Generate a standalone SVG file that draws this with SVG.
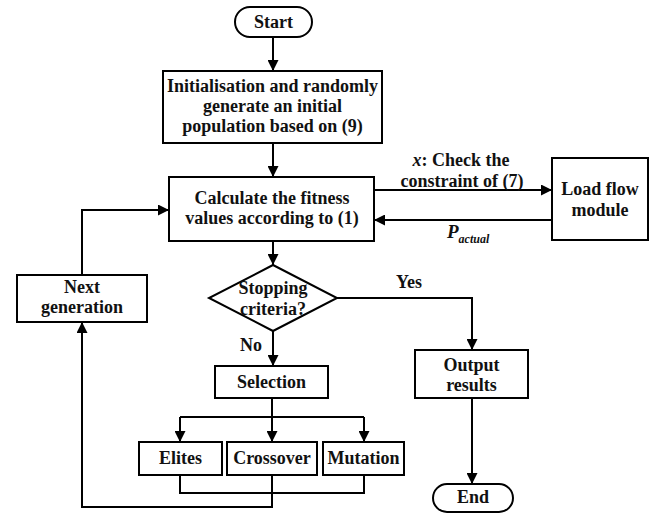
<svg xmlns="http://www.w3.org/2000/svg" width="653" height="514" viewBox="0 0 653 514" font-family="'Liberation Serif', 'Times New Roman', Times, serif">
<defs>
<marker id="ah" viewBox="0 0 10 10" refX="10" refY="5" markerWidth="11" markerHeight="11" markerUnits="userSpaceOnUse" orient="auto">
<path d="M0,0 L10,5 L0,10 z" fill="#000"/>
</marker>
<style>
.n{fill:#fff;stroke:#000;stroke-width:2}
.t{font-family:'Liberation Serif','Times New Roman',Times,serif;font-weight:bold;font-size:18px;text-anchor:middle;fill:#111}
.c{fill:none;stroke:#000;stroke-width:2}
.a{marker-end:url(#ah)}
.i{font-style:italic}
</style>
</defs>
<rect width="653" height="514" fill="#fff"/>
<g id="connectors">
<path class="c a" d="M273,37 V71"/>
<path class="c a" d="M273,143 V177"/>
<path class="c a" d="M374,190 H552"/>
<path class="c a" d="M552,220 H374"/>
<path class="c a" d="M273,241 V265"/>
<path class="c a" d="M337,298 H472 V350"/>
<path class="c a" d="M273,331 V366"/>
<path class="c a" d="M272,398 V442"/>
<path class="c" d="M180,417 H364"/>
<path class="c a" d="M180,417 V442"/>
<path class="c a" d="M364,417 V442"/>
<path class="c a" d="M472,398 V484"/>
<path class="c" d="M180,475 V493 H364 V475"/>
<path class="c a" d="M272,475 V507 H82 V322"/>
<path class="c a" d="M82,275 V210 H169"/>
<text class="t" x="461" y="166"><tspan class="i">x</tspan>: Check the</text>
<text class="t" x="462" y="187">constraint of (7)</text>
<text class="t i" x="447" y="238" style="text-anchor:start;font-size:19px">P<tspan style="font-size:12px" dy="5">actual</tspan></text>
<text class="t" x="409" y="288">Yes</text>
<text class="t" x="251" y="351">No</text>
</g>
<g id="start">
<rect class="n" x="235" y="7" width="77" height="30" rx="15"/>
<text class="t" x="273.5" y="28">Start</text>
</g>
<g id="init">
<rect class="n" x="163" y="71" width="219" height="72"/>
<text class="t" x="272.5" y="92">Initialisation and randomly</text>
<text class="t" x="272.5" y="112">generate an initial</text>
<text class="t" x="272.5" y="132">population based on (9)</text>
</g>
<g id="fitness">
<rect class="n" x="169" y="177" width="205" height="64"/>
<text class="t" x="272" y="204">Calculate the fitness</text>
<text class="t" x="272" y="224">values according to (1)</text>
</g>
<g id="loadflow">
<rect class="n" x="552" y="158" width="96" height="82"/>
<text class="t" x="600" y="195">Load flow</text>
<text class="t" x="600" y="216">module</text>
</g>
<g id="stopping">
<polygon class="n" points="273,265 337,298 273,331 209,298"/>
<text class="t" x="273" y="294">Stopping</text>
<text class="t" x="273" y="315">criteria?</text>
</g>
<g id="nextgen">
<rect class="n" x="17" y="275" width="130" height="47"/>
<text class="t" x="82" y="293">Next</text>
<text class="t" x="82" y="313">generation</text>
</g>
<g id="selection">
<rect class="n" x="215" y="366" width="113" height="32"/>
<text class="t" x="271.5" y="388">Selection</text>
</g>
<g id="elites">
<rect class="n" x="139" y="442" width="83" height="33"/>
<text class="t" x="180.5" y="464">Elites</text>
</g>
<g id="crossover">
<rect class="n" x="227" y="442" width="90" height="33"/>
<text class="t" x="272" y="464">Crossover</text>
</g>
<g id="mutation">
<rect class="n" x="323" y="442" width="81" height="33"/>
<text class="t" x="363.5" y="464">Mutation</text>
</g>
<g id="output">
<rect class="n" x="415" y="350" width="113" height="48"/>
<text class="t" x="471.5" y="371">Output</text>
<text class="t" x="471.5" y="391">results</text>
</g>
<g id="end">
<rect class="n" x="433" y="484" width="80" height="28" rx="14"/>
<text class="t" x="473" y="503">End</text>
</g>
</svg>
